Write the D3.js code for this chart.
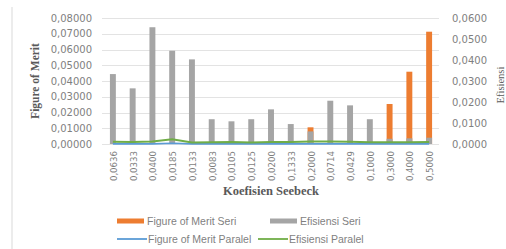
<!DOCTYPE html>
<html>
<head>
<meta charset="utf-8">
<script src="https://cdn.jsdelivr.net/npm/d3@7"></script>
<style>
  body { margin: 0; background: #fff; }
  svg { display: block; }
</style>
</head>
<body>
<svg id="chart" width="506" height="249"></svg>
<script>
// ── data ──────────────────────────────────────────────
const categories = ['0,0636','0,0333','0,0400','0,0185','0,0133','0,0083','0,0105','0,0125','0,0200',
  '0,1333','0,2000','0,0714','0,0429','0,1000','0,3000','0,4000','0,5000'];
// left axis
const fomSeri    = [0.0004,0.0003,0.0004,0.0006,0.0003,0.0002,0.0002,0.0002,0.0004,0.0006,0.0106,0.0005,0.0004,0.0006,0.0254,0.0459,0.0713];
const fomParalel = [0.0001,0.0001,0.0001,0.0005,0.0001,0.0001,0.0001,0.0001,0.0001,0.0001,0.0001,0.0001,0.0001,0.0001,0.0001,0.0001,0.0001];
// right axis
const effSeri    = [0.0333,0.0265,0.0556,0.0444,0.0403,0.0118,0.0108,0.0118,0.0165,0.0095,0.0060,0.0206,0.0184,0.0118,0.0025,0.0027,0.0030];
const effParalel = [0.0011,0.0010,0.0012,0.0022,0.0007,0.0008,0.0010,0.0007,0.0009,0.0010,0.0012,0.0012,0.0011,0.0008,0.0008,0.0008,0.0010];
const leftTicks  = [0,0.01,0.02,0.03,0.04,0.05,0.06,0.07,0.08];
const rightTicks = [0,0.01,0.02,0.03,0.04,0.05,0.06];

const C = { orange: '#ed7d31', grey: '#a5a5a5', blue: '#5b9bd5', green: '#70ad47', text: '#7f7f7f', grid: '#e3e3e3' };

const svg = d3.select('#chart');
const L = 103, R = 439, T = 18, B = 144;

const x = d3.scaleBand().domain(categories).range([L, R]).paddingInner(0.7).paddingOuter(0.35);
const yL = d3.scaleLinear().domain([0, 0.08]).range([B, T]);
const yR = d3.scaleLinear().domain([0, 0.06]).range([B, T]);

// chart border (left edge only visible)
svg.append('line').attr('x1', 12).attr('x2', 12).attr('y1', 7).attr('y2', 249)
  .attr('stroke', '#d9d9d9');

// gridlines
svg.append('g').selectAll('line').data(leftTicks).join('line')
  .attr('x1', L - 1).attr('x2', R)
  .attr('y1', d => Math.round(yL(d)) + 0.5).attr('y2', d => Math.round(yL(d)) + 0.5)
  .attr('stroke', C.grid);

// axes
const comma = f => v => d3.format(f)(v).replace('.', ',');
const axL = svg.append('g').attr('transform', `translate(${L},0)`)
  .call(d3.axisLeft(yL).tickValues(leftTicks).tickSize(0).tickPadding(11).tickFormat(comma('.5f')));
const axR = svg.append('g').attr('transform', `translate(${R},0)`)
  .call(d3.axisRight(yR).tickValues(rightTicks).tickSize(0).tickPadding(13).tickFormat(comma('.4f')));
[axL, axR].forEach(a => {
  a.select('.domain').remove();
  a.selectAll('text').attr('fill', C.text).attr('font-family', 'DejaVu Sans').attr('font-size', '10px');
});

// x tick labels, rotated
svg.append('g').selectAll('text').data(categories).join('text')
  .attr('transform', d => `translate(${x(d) + x.bandwidth() / 2 + 1},151) rotate(-90)`)
  .attr('text-anchor', 'end').attr('dy', '0.35em')
  .attr('fill', C.text).attr('font-family', 'DejaVu Sans').attr('font-size', '8.6px')
  .text(d => d);

// bars: primary (orange) behind secondary (grey)
svg.append('g').selectAll('rect').data(fomSeri).join('rect')
  .attr('x', (d, i) => x(categories[i])).attr('width', x.bandwidth())
  .attr('y', d => yL(d)).attr('height', d => B - yL(d))
  .attr('fill', C.orange);
svg.append('g').selectAll('rect').data(effSeri).join('rect')
  .attr('x', (d, i) => x(categories[i])).attr('width', x.bandwidth())
  .attr('y', d => yR(d)).attr('height', d => B - yR(d))
  .attr('fill', C.grey);

// lines
const cx = i => x(categories[i]) + x.bandwidth() / 2;
svg.append('path').datum(fomParalel)
  .attr('d', d3.line().x((d, i) => cx(i)).y(d => yL(d)))
  .attr('fill', 'none').attr('stroke', C.blue).attr('stroke-width', 1.6);
svg.append('path').datum(effParalel)
  .attr('d', d3.line().x((d, i) => cx(i)).y(d => yR(d)))
  .attr('fill', 'none').attr('stroke', C.green).attr('stroke-width', 2);

// axis titles
svg.append('text').attr('transform', 'translate(39,81) rotate(-90)')
  .attr('text-anchor', 'middle').attr('font-family', 'Liberation Serif').attr('font-weight', 'bold')
  .attr('font-size', '11.5px').attr('fill', '#595959').text('Figure of Merit');
svg.append('text').attr('transform', 'translate(504,85) rotate(-90)')
  .attr('text-anchor', 'middle').attr('font-family', 'Liberation Serif')
  .attr('font-size', '10.5px').attr('fill', '#595959').text('Efisiensi');
svg.append('text').attr('x', 271).attr('y', 195)
  .attr('text-anchor', 'middle').attr('font-family', 'Liberation Serif').attr('font-weight', 'bold')
  .attr('font-size', '12.5px').attr('fill', '#595959').text('Koefisien Seebeck');

// legend
const legend = [
  { name: 'Figure of Merit Seri', color: C.orange, type: 'bar', x: 117, y: 221 },
  { name: 'Efisiensi Seri', color: C.grey, type: 'bar', x: 270, y: 221 },
  { name: 'Figure of Merit Paralel', color: C.blue, type: 'line', x: 117, y: 239 },
  { name: 'Efisiensi Paralel', color: C.green, type: 'line', x: 258, y: 239 }
];
const lg = svg.append('g').selectAll('g').data(legend).join('g')
  .attr('transform', d => `translate(${d.x},${d.y})`);
lg.filter(d => d.type === 'bar').append('rect')
  .attr('x', 0).attr('y', -2.5).attr('width', 27).attr('height', 5).attr('fill', d => d.color);
lg.filter(d => d.type === 'line').append('line')
  .attr('x1', 0).attr('x2', 30).attr('stroke', d => d.color).attr('stroke-width', 1.8);
lg.append('text')
  .attr('x', d => d.type === 'bar' ? 30 : 31).attr('dy', '0.35em')
  .attr('font-family', 'Liberation Sans').attr('font-size', '10.5px').attr('fill', C.text)
  .text(d => d.name);
</script>
</body>
</html>
